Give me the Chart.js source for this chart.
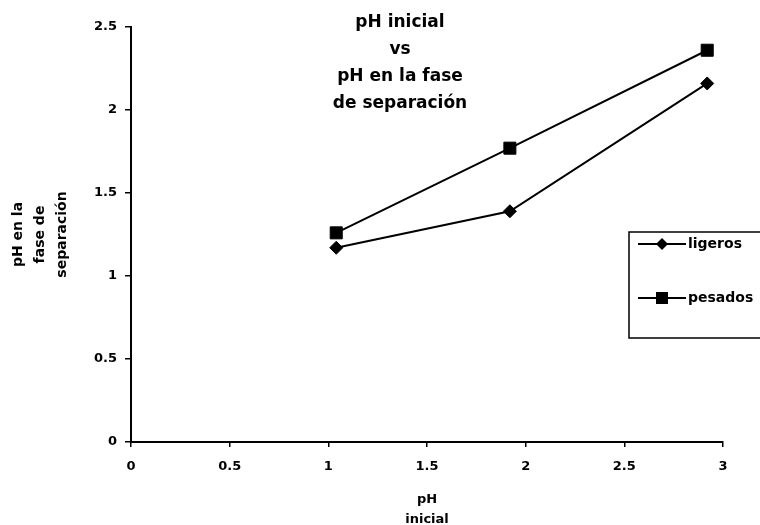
<!DOCTYPE html>
<html>
<head>
<meta charset="utf-8">
<script src="https://cdn.jsdelivr.net/npm/chart.js@4.4.1/dist/chart.umd.min.js"></script>
<style>
    html, body { margin: 0; padding: 0; background: #fff; }
    #wrap { width: 760px; height: 525px; }
</style>
</head>
<body>
<div id="wrap"><canvas id="chart" width="760" height="525"></canvas></div>
<script>
// data
const phInicial = [1.04, 1.92, 2.92];
const ligeros = [1.17, 1.39, 2.16];
const pesados = [1.26, 1.77, 2.36];
const seriesNames = ["ligeros", "pesados"];
const xTickValues = [0, 0.5, 1, 1.5, 2, 2.5, 3];
const yTickValues = [0, 0.5, 1, 1.5, 2, 2.5];
const titleLines = ["pH inicial", "vs", "pH en la fase", "de separación"];
const xTitle = ["pH", "inicial"];
const yTitle = ["pH en la", "fase de", "separación"];

const FONT = "'DejaVu Sans', Arial, sans-serif";

function toPoints(xs, ys) {
    return xs.map((x, i) => ({ x: x, y: ys[i] }));
}

// title sits over the plot, so draw it ourselves
const titlePlugin = {
    id: "overTitle",
    afterDraw(chart) {
        const ctx = chart.ctx;
        ctx.save();
        ctx.fillStyle = "#000";
        ctx.font = "bold 17px " + FONT;
        ctx.textAlign = "center";
        ctx.textBaseline = "middle";
        titleLines.forEach((line, i) => ctx.fillText(line, 400, 23 + i * 27));
        ctx.restore();
    },
};

// boxed legend on the right edge, partly cut off
const legendBox = {
    id: "legendBox",
    afterDraw(chart) {
        const ctx = chart.ctx;
        ctx.save();
        ctx.strokeStyle = "#000";
        ctx.lineWidth = 1.5;
        ctx.strokeRect(629, 232, 150, 106);
        const rows = [244, 298];
        chart.data.datasets.forEach((ds, i) => {
            const y = rows[i];
            ctx.lineWidth = 2;
            ctx.beginPath();
            ctx.moveTo(638, y);
            ctx.lineTo(686, y);
            ctx.stroke();
            ctx.fillStyle = "#000";
            ctx.beginPath();
            if (ds.pointStyle === "rectRot") {
                const r = 6;
                ctx.moveTo(662, y - r);
                ctx.lineTo(662 + r, y);
                ctx.lineTo(662, y + r);
                ctx.lineTo(662 - r, y);
                ctx.closePath();
            } else {
                ctx.rect(656, y - 6, 12, 12);
            }
            ctx.fill();
            ctx.font = "bold 14px " + FONT;
            ctx.textAlign = "left";
            ctx.textBaseline = "middle";
            ctx.fillText(ds.label, 688, y);
        });
        ctx.restore();
    },
};

const chart = new Chart(document.getElementById("chart"), {
    type: "scatter",
    data: {
        datasets: [
            {
                label: seriesNames[0],
                data: toPoints(phInicial, ligeros),
                showLine: true,
                borderColor: "#000",
                backgroundColor: "#000",
                borderWidth: 2,
                pointStyle: "rectRot",
                pointRadius: 6.5,
                pointBorderWidth: 1,
            },
            {
                label: seriesNames[1],
                data: toPoints(phInicial, pesados),
                showLine: true,
                borderColor: "#000",
                backgroundColor: "#000",
                borderWidth: 2,
                pointStyle: "rect",
                pointRadius: 8.5,
                pointBorderWidth: 1,
            },
        ],
    },
    options: {
        responsive: false,
        devicePixelRatio: 1,
        animation: false,
        layout: { padding: { left: 0, top: 27, right: 37, bottom: 0 } },
        plugins: {
            legend: { display: false },
            title: { display: false },
            tooltip: { enabled: false },
        },
        scales: {
            x: {
                type: "linear",
                min: 0,
                max: 3,
                afterBuildTicks: (s) => { s.ticks = xTickValues.map((v) => ({ value: v })); },
                afterFit: (s) => { s.height = 83; },
                grid: { drawOnChartArea: false, tickLength: 5, color: "#000", lineWidth: 1.5 },
                border: { color: "#000", width: 2 },
                ticks: {
                    color: "#000",
                    padding: 12,
                    font: { family: FONT, size: 13, weight: "bold" },
                    callback: (v) => String(v),
                },
                title: {
                    display: true,
                    text: xTitle,
                    color: "#000",
                    font: { family: FONT, size: 13, weight: "bold", lineHeight: "20px" },
                    padding: { top: 0, bottom: -5 },
                },
            },
            y: {
                type: "linear",
                min: 0,
                max: 2.5,
                afterBuildTicks: (s) => { s.ticks = yTickValues.map((v) => ({ value: v })); },
                afterFit: (s) => { s.width = 131; },
                grid: { drawOnChartArea: false, tickLength: 6, color: "#000", lineWidth: 1.5 },
                border: { color: "#000", width: 2 },
                ticks: {
                    color: "#000",
                    padding: 8,
                    font: { family: FONT, size: 13, weight: "bold" },
                    callback: (v) => String(v),
                },
                title: {
                    display: true,
                    text: yTitle,
                    color: "#000",
                    font: { family: FONT, size: 14, weight: "bold", lineHeight: "22px" },
                    padding: { top: 7, bottom: 0 },
                },
            },
        },
    },
    plugins: [titlePlugin, legendBox],
});
</script>
</body>
</html>
